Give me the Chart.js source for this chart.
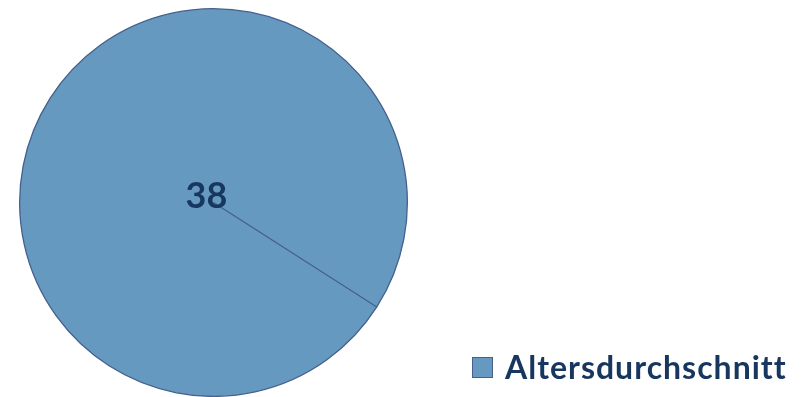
<!DOCTYPE html>
<html>
<head>
<meta charset="utf-8">
<script src="https://cdn.jsdelivr.net/npm/chart.js@4"></script>
<style>
  html, body { margin: 0; padding: 0; background: #ffffff; }
  #wrap { width: 810px; height: 397px; position: relative; }
</style>
</head>
<body>
<div id="wrap"><canvas id="c" width="810" height="397"></canvas></div>
<script>
const categories = ['Altersdurchschnitt'];
const values = [38];

const fillColor = '#6699C0';
const edgeColor = '#45608C';
const textColor = '#17375E';

// value label drawn at the slice centre
const valueLabel = {
  id: 'valueLabel',
  afterDatasetsDraw(chart) {
    const meta = chart.getDatasetMeta(0);
    const ctx = chart.ctx;
    ctx.save();
    ctx.font = 'bold 36px Lato';
    if ('letterSpacing' in ctx) ctx.letterSpacing = '0px';
    ctx.fillStyle = textColor;
    ctx.textAlign = 'center';
    ctx.textBaseline = 'middle';
    meta.data.forEach((arc, i) => {
      ctx.fillText(String(values[i]), arc.x - 7, arc.y - 6);
    });
    ctx.restore();
  }
};

// legend in the lower right corner, built from the chart's own legend items
const cornerLegend = {
  id: 'cornerLegend',
  afterDraw(chart, args, opts) {
    const items = Chart.overrides.pie.plugins.legend.labels.generateLabels(chart);
    const ctx = chart.ctx;
    ctx.save();
    let y = opts.top;
    items.forEach(item => {
      ctx.fillStyle = item.fillStyle;
      ctx.strokeStyle = item.strokeStyle;
      ctx.lineWidth = 1;
      ctx.fillRect(opts.left, y, opts.box, opts.box);
      ctx.strokeRect(opts.left + 0.5, y + 0.5, opts.box - 1, opts.box - 1);
      ctx.font = 'bold ' + opts.fontSize + 'px Lato';
      if ('letterSpacing' in ctx) ctx.letterSpacing = '1px';
      ctx.fillStyle = opts.color;
      ctx.textAlign = 'left';
      ctx.textBaseline = 'middle';
      ctx.fillText(item.text, opts.left + opts.box + opts.gap, y + opts.box / 2 + 1);
      y += opts.box + 10;
    });
    ctx.restore();
  }
};

new Chart(document.getElementById('c'), {
  type: 'pie',
  data: {
    labels: categories,
    datasets: [{
      data: values,
      backgroundColor: fillColor,
      borderColor: edgeColor,
      borderWidth: 1.3
    }]
  },
  options: {
    responsive: false,
    animation: false,
    rotation: 122.6,
    layout: { padding: { left: 19, top: 8, right: 402, bottom: 0 } },
    plugins: {
      legend: { display: false },
      tooltip: { enabled: false },
      cornerLegend: { left: 472, top: 357, box: 21, gap: 12, fontSize: 32, color: textColor }
    }
  },
  plugins: [valueLabel, cornerLegend]
});
</script>
</body>
</html>
